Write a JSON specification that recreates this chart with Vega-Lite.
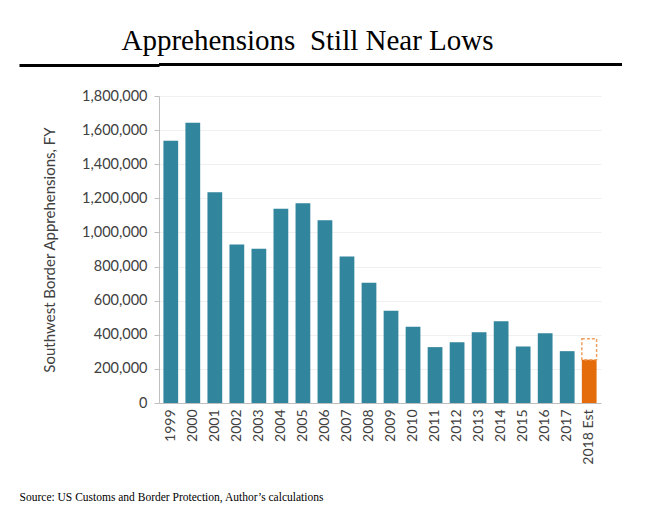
{
  "$schema": "https://vega.github.io/schema/vega-lite/v6.json",
  "background": "white",
  "padding": {"left": 17, "top": 26, "right": 0, "bottom": 0},
  "spacing": 20,
  "config": {
    "view": {"stroke": null},
    "font": "Lato",
    "axis": {"labelFont": "Lato", "titleFont": "Lato", "labelColor": "#404040", "titleColor": "#404040"}
  },
  "datasets": {
    "apprehensions": [
      {"year": "1999", "value": 1537000, "kind": "Actual"},
      {"year": "2000", "value": 1643679, "kind": "Actual"},
      {"year": "2001", "value": 1235718, "kind": "Actual"},
      {"year": "2002", "value": 929809, "kind": "Actual"},
      {"year": "2003", "value": 905065, "kind": "Actual"},
      {"year": "2004", "value": 1139282, "kind": "Actual"},
      {"year": "2005", "value": 1171396, "kind": "Actual"},
      {"year": "2006", "value": 1071972, "kind": "Actual"},
      {"year": "2007", "value": 858638, "kind": "Actual"},
      {"year": "2008", "value": 705005, "kind": "Actual"},
      {"year": "2009", "value": 540865, "kind": "Actual"},
      {"year": "2010", "value": 447731, "kind": "Actual"},
      {"year": "2011", "value": 327577, "kind": "Actual"},
      {"year": "2012", "value": 356873, "kind": "Actual"},
      {"year": "2013", "value": 414397, "kind": "Actual"},
      {"year": "2014", "value": 479371, "kind": "Actual"},
      {"year": "2015", "value": 331333, "kind": "Actual"},
      {"year": "2016", "value": 408870, "kind": "Actual"},
      {"year": "2017", "value": 303916, "kind": "Actual"},
      {"year": "2018 Est", "value": 253000, "kind": "Estimate", "high": 376000}
    ]
  },
  "vconcat": [
    {
      "width": 463,
      "height": 3,
      "view": {"fill": "black", "stroke": null},
      "title": {
        "text": "Apprehensions\u00a0 Still Near Lows",
        "font": "Liberation Serif",
        "fontSize": 29,
        "fontWeight": "normal",
        "color": "black",
        "anchor": "middle",
        "dx": -83,
        "offset": 6
      },
      "data": {"values": [{}]},
      "mark": {"type": "point", "opacity": 0},
      "encoding": {
        "y": {
          "datum": 0.5,
          "type": "quantitative",
          "scale": {"domain": [0, 1]},
          "axis": {
            "title": null,
            "values": [0.5],
            "labels": false,
            "domain": false,
            "grid": false,
            "tickSize": 140,
            "tickWidth": 3,
            "tickColor": "black"
          }
        }
      }
    },
    {
      "width": 442,
      "height": 307,
      "data": {"name": "apprehensions"},
      "title": {
        "text": "Source: US Customs and Border Protection, Author’s calculations",
        "orient": "bottom",
        "anchor": "start",
        "frame": "bounds",
        "dx": -23,
        "offset": 28,
        "font": "Liberation Serif",
        "fontSize": 11.5,
        "fontWeight": "normal",
        "color": "black"
      },
      "encoding": {
        "x": {
          "field": "year",
          "type": "nominal",
          "sort": null,
          "scale": {"paddingInner": 0.33, "paddingOuter": 0.2},
          "axis": {
            "title": null,
            "labelAngle": -90,
            "labelFontSize": 14,
            "ticks": false,
            "labelPadding": 6,
            "domainColor": "#bfbfbf",
            "domainWidth": 1.2
          }
        },
        "y": {
          "field": "value",
          "type": "quantitative",
          "scale": {"domain": [0, 1800000]},
          "axis": {
            "title": "Southwest Border Apprehensions, FY",
            "titleFontSize": 15,
            "titleFontWeight": "normal",
            "titlePadding": 24,
            "values": [0, 200000, 400000, 600000, 800000, 1000000, 1200000, 1400000, 1600000, 1800000],
            "format": ",.0f",
            "labelFontSize": 14.5,
            "labelPadding": 7,
            "tickSize": 5,
            "tickColor": "#bfbfbf",
            "domainColor": "#bfbfbf",
            "gridColor": "#f0f0f0"
          }
        }
      },
      "layer": [
        {
          "mark": {"type": "bar"},
          "encoding": {
            "color": {
              "field": "kind",
              "type": "nominal",
              "scale": {"domain": ["Actual", "Estimate"], "range": ["#31859C", "#E46C0A"]},
              "legend": null
            }
          }
        },
        {
          "transform": [{"filter": "isValid(datum.high)"}],
          "mark": {"type": "bar", "fill": null, "fillOpacity": 0, "stroke": "#F0A060", "strokeDash": [3, 2], "strokeWidth": 1.5},
          "encoding": {
            "y2": {"field": "high"}
          }
        }
      ]
    }
  ]
}
